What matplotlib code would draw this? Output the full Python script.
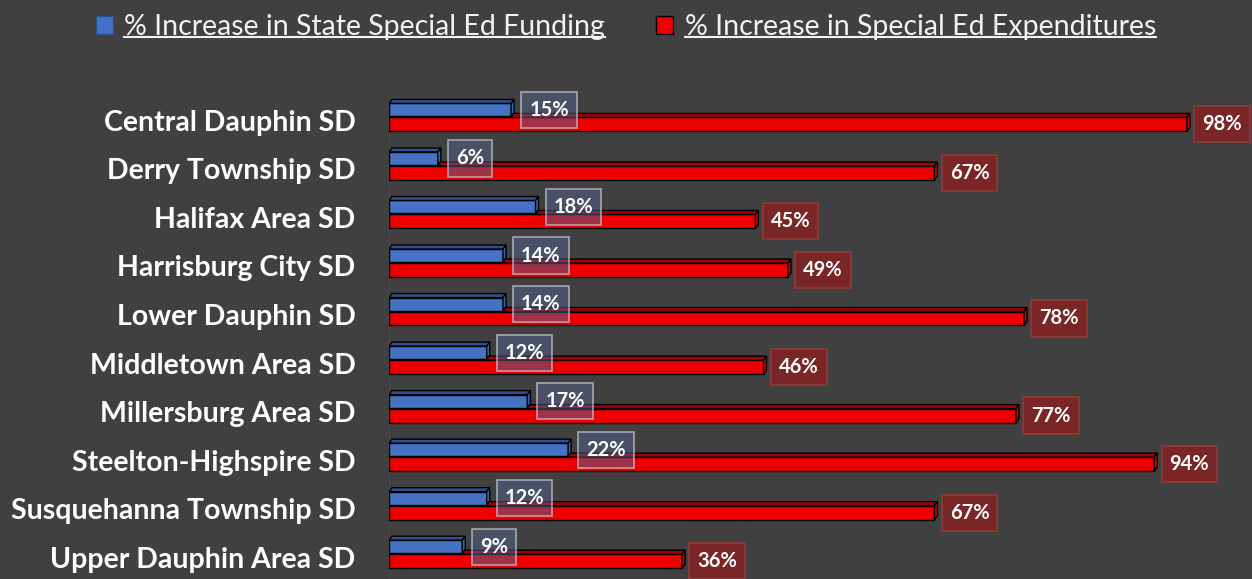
import matplotlib
matplotlib.use("Agg")
import matplotlib.pyplot as plt
from matplotlib.patches import Polygon, Patch
from matplotlib.lines import Line2D

districts = ["Central Dauphin SD", "Derry Township SD", "Halifax Area SD",
             "Harrisburg City SD", "Lower Dauphin SD", "Middletown Area SD",
             "Millersburg Area SD", "Steelton-Highspire SD",
             "Susquehanna Township SD", "Upper Dauphin Area SD"]
funding = [15, 6, 18, 14, 14, 12, 17, 22, 12, 9]
expenditures = [98, 67, 45, 49, 78, 46, 77, 94, 67, 36]
series_names = ["% Increase in State Special Ed Funding",
                "% Increase in Special Ed Expenditures"]

BG = "#404040"
plt.rcParams["font.family"] = ["Lato", "DejaVu Sans"]

fig = plt.figure(figsize=(12.52, 5.79), dpi=100, facecolor=BG)
ax = fig.add_axes([0.3107, 0.0, 0.6893, 0.870])
ax.set_facecolor(BG)
ax.set_xlim(0, 106)
ax.set_ylim(9.45, -0.93)

# 3d-ish look: depth in data units
dx, dy = 0.37, 0.082


def bar3d(y, h, w, front, top, side, z):
    yt, yb = y - h / 2, y + h / 2
    ax.barh(y, w, height=h, color=front, edgecolor="black", linewidth=1.0, zorder=z)
    ax.add_patch(Polygon([(0, yt), (w, yt), (w + dx, yt - dy), (dx, yt - dy)],
                         closed=True, facecolor=top, edgecolor="black",
                         linewidth=1.0, zorder=z))
    ax.add_patch(Polygon([(w, yt), (w + dx, yt - dy), (w + dx, yb - dy), (w, yb)],
                         closed=True, facecolor=side, edgecolor="black",
                         linewidth=1.0, zorder=z))


for i in range(len(districts)):
    bar3d(i + 0.082, 0.288, expenditures[i], "#ee0000", "#a80000", "#c80000", 2)
    bar3d(i - 0.216, 0.268, funding[i], "#4472c4", "#2f528f", "#3a64b0", 3)

    ax.annotate(f"{funding[i]}%", (funding[i], i - 0.216), xytext=(13, 0),
                textcoords="offset points", ha="left", va="center",
                color="white", fontsize=14.5, fontweight="bold", zorder=5,
                bbox=dict(boxstyle="square,pad=0.4", facecolor=(0.33, 0.39, 0.55, 0.5),
                          edgecolor=(0.75, 0.78, 0.84, 0.75), linewidth=1.2))
    ax.annotate(f"{expenditures[i]}%", (expenditures[i], i + 0.082), xytext=(11, 0),
                textcoords="offset points", ha="left", va="center",
                color="white", fontsize=14.5, fontweight="bold", zorder=5,
                bbox=dict(boxstyle="square,pad=0.4", facecolor="#7a2626",
                          edgecolor="#8e3b3b", linewidth=1.2))

ax.set_yticks(range(len(districts)))
ax.set_yticklabels(districts, fontsize=20.5, fontweight="bold", color="white")
ax.tick_params(axis="y", length=0, pad=24)
ax.set_xticks([])
for s in ax.spines.values():
    s.set_visible(False)
# faint floor wall on the left
ax.axvline(-0.25, ymin=0.0, ymax=0.96, color="#4c4c4c", linewidth=4, zorder=1)

handles = [Patch(facecolor="#4472c4", edgecolor="#2f528f"),
           Patch(facecolor="#ee0000", edgecolor="black")]
leg = fig.legend(handles, series_names, loc="upper center", bbox_to_anchor=(0.5, 1.0),
                 ncol=2, frameon=False, fontsize=20.5, handlelength=0.6,
                 handleheight=0.6, handletextpad=0.4, columnspacing=1.8,
                 labelcolor="#f2f2f2", borderaxespad=0.1)

# underline legend texts
fig.canvas.draw()
r = fig.canvas.get_renderer()
for t in leg.get_texts():
    bb = t.get_window_extent(r).transformed(fig.transFigure.inverted())
    fig.add_artist(Line2D([bb.x0, bb.x1], [bb.y0 + 0.006, bb.y0 + 0.006],
                          transform=fig.transFigure, color="#f2f2f2", linewidth=1.5))

fig.savefig("out.png", dpi=100, facecolor=BG)
